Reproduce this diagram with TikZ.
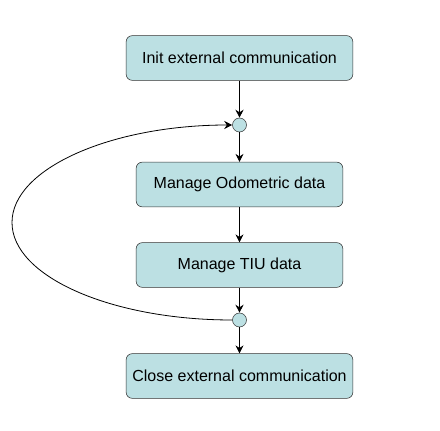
\documentclass[tikz,border=0pt]{standalone}
\usepackage{fontspec}
\setmainfont{Liberation Sans}
\usepackage{tikz}
\usetikzlibrary{shapes, arrows.meta, positioning}
\definecolor{boxfill}{RGB}{188,224,227}
\definecolor{boxline}{RGB}{51,51,51}

\begin{document}
\begin{tikzpicture}
  [
    x=0.75pt, y=0.75pt,
    Box/.style={rectangle, rounded corners=4.5pt, draw=boxline, fill=boxfill, minimum height=33.5pt, font=\fontsize{12}{14}\selectfont},
    Wide/.style={Box, minimum width=170pt},
    Narrow/.style={Box, minimum width=155pt},
    Dot/.style={circle, draw=boxline, fill=boxfill, inner sep=0pt, minimum size=10.5pt},
    Arrow/.style={-{Stealth[length=6pt, width=6pt]}, draw, semithick}
  ]
  \useasboundingbox (0, 0) rectangle (440, -431);
  % Nodes
  \node[Wide] (init) at(239.5, -58) {Init external communication};
  \node[Dot] (j1) at(239.5, -125) {};
  \node[Narrow] (odo) at(239.5, -184.5) {Manage Odometric data};
  \node[Narrow] (tiu) at(239.5, -265) {Manage TIU data};
  \node[Dot] (j2) at(239.5, -320) {};
  \node[Wide] (close) at(239.5, -376) {Close external communication};
  \coordinate (back) at(12, -222.5);
  % Lines
  \path [Arrow] (init) -- (j1);
  \path [Arrow] (j1) -- (odo);
  \path [Arrow] (odo) -- (tiu);
  \path [Arrow] (tiu) -- (j2);
  \path [Arrow] (j2) -- (close);
  \path [Arrow] (j2.west) .. controls +(-121, 0) and +(0, -54) .. (back)
    .. controls +(0, 54) and +(-121, 0) .. (j1.west);
\end{tikzpicture}
\end{document}
